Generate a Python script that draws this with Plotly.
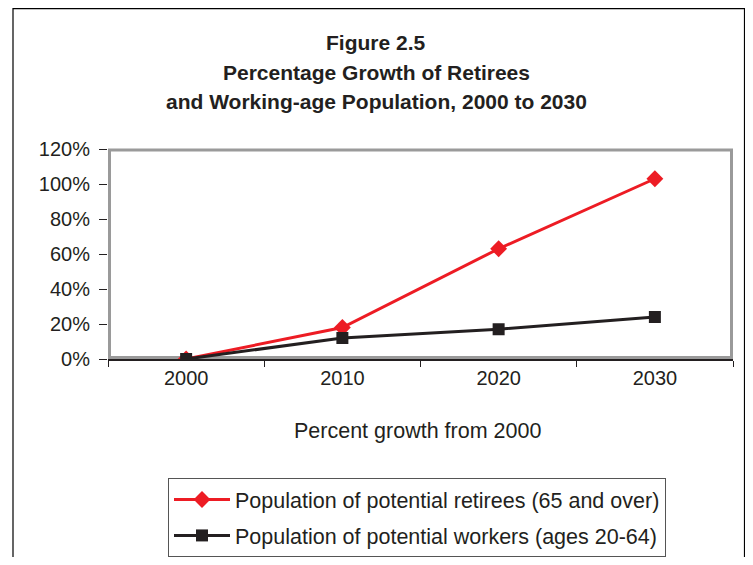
import plotly.graph_objects as go

years = ["2000", "2010", "2020", "2030"]
retirees = [0, 18, 63, 103]
workers = [0, 12, 17, 24]
y_tickvals = [0, 20, 40, 60, 80, 100, 120]
y_ticktext = ["0%", "20%", "40%", "60%", "80%", "100%", "120%"]
title_lines = ["Figure 2.5", "Percentage Growth of Retirees", "and Working-age Population, 2000 to 2030"]
x_title = "Percent growth from 2000"

OFF = 8  # page body margin
W, H = 753 - 2 * OFF, 565 - 2 * OFF
# plot-area edges in screenshot pixels
L, R, T, B = 108, 733, 149, 359
pw, ph = R - L, B - T

def px(x):
    return (x - L) / pw

def py(y):
    return (B - y) / ph

FONT = "Liberation Sans, Arial, sans-serif"
RED = "#ED1C24"
BLK = "#231F20"
FS = 20

fig = go.Figure()
fig.add_trace(go.Scatter(
    x=years, y=retirees, mode="lines+markers",
    name="Population of potential retirees (65 and over)", legendgroup="a",
    line=dict(color=RED, width=3),
    marker=dict(symbol="diamond", size=13, color=RED),
))
fig.add_trace(go.Scatter(
    x=years, y=workers, mode="lines+markers",
    name="Population of potential workers (ages 20-64)", legendgroup="b",
    line=dict(color=BLK, width=3),
    marker=dict(symbol="square", size=12, color=BLK),
))

annotations = []
for txt, yy in zip(title_lines, [42, 73, 102]):
    annotations.append(dict(
        text="<b>" + txt + "</b>", x=px(376), y=py(yy), xref="paper", yref="paper",
        showarrow=False, xanchor="center", yanchor="middle",
        font=dict(family=FONT, size=21, color=BLK),
    ))
annotations.append(dict(
    text=x_title, x=px(417), y=py(431), xref="paper", yref="paper",
    showarrow=False, xanchor="center", yanchor="middle",
    font=dict(family=FONT, size=21.5, color=BLK),
))

shapes = [
    dict(type="rect", xref="paper", yref="paper", x0=px(13), x1=px(744.5), y0=py(8.6), y1=py(600),
         line=dict(color="black", width=1.2), layer="below"),
    dict(type="rect", xref="paper", yref="paper", x0=px(109.5), x1=px(731.5), y0=py(150), y1=py(357.5),
         line=dict(color="#9A9A9A", width=3), layer="below"),
]

fig.update_layout(
    width=W, height=H,
    margin=dict(l=L - OFF, r=W - (R - OFF), t=T - OFF, b=H - (B - OFF), autoexpand=False),
    paper_bgcolor="white", plot_bgcolor="white",
    font=dict(family=FONT, size=FS, color=BLK),
    showlegend=True,
    legend=dict(
        x=px(168), y=py(478), xanchor="left", yanchor="top",
        bordercolor="#555555", borderwidth=1, bgcolor="white",
        font=dict(family=FONT, size=21.5, color=BLK),
        tracegroupgap=5, itemwidth=56,
    ),
    annotations=annotations,
    shapes=shapes,
    xaxis=dict(
        type="category", range=[-0.5, 3.5], tickson="boundaries",
        ticks="outside", ticklen=6, tickcolor=BLK, tickwidth=1,
        showline=True, linecolor=BLK, linewidth=1.5, showgrid=False, zeroline=False,
        tickfont=dict(family=FONT, size=FS, color=BLK),
    ),
    yaxis=dict(
        range=[0, 120], tickvals=y_tickvals, ticktext=y_ticktext,
        ticks="outside", ticklen=8, tickcolor=BLK, tickwidth=1,
        showline=False, showgrid=False, zeroline=False,
        tickfont=dict(family=FONT, size=FS, color=BLK), ticklabelstandoff=5,
    ),
)

fig.write_html("out.html")
